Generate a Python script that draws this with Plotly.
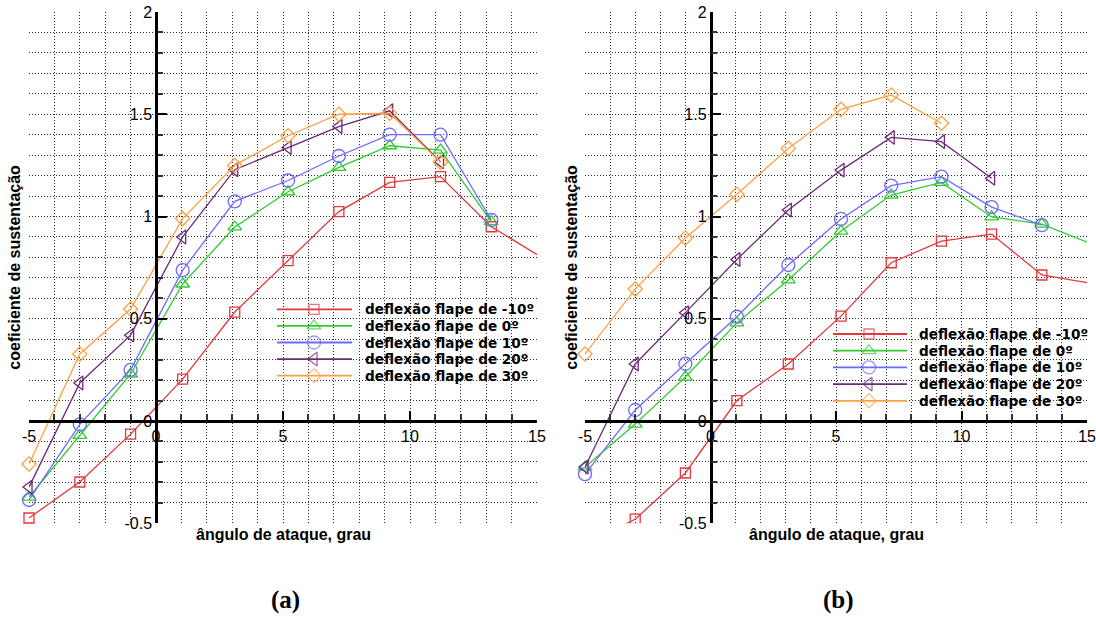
import plotly.graph_objects as go

# ---------------- data ----------------
alpha = [-5, -3, -1, 1.05, 3.1, 5.2, 7.2, 9.2, 11.2, 13.2, 15.1]

# panel (a)
a_m10 = [-0.474, -0.298, -0.064, 0.205, 0.533, 0.784, 1.024, 1.167, 1.195, 0.95, 0.807]
a_0 = [-0.372, -0.07, 0.23, 0.67, 0.949, 1.121, 1.24, 1.346, 1.325, 0.975]
a_10 = [-0.386, -0.016, 0.25, 0.738, 1.074, 1.176, 1.296, 1.40, 1.40, 0.983]
a_20 = [-0.323, 0.186, 0.42, 0.90, 1.229, 1.337, 1.44, 1.517, 1.268]
a_30 = [-0.21, 0.328, 0.548, 0.99, 1.25, 1.395, 1.50, 1.505, 1.265]

# panel (b)
b_m10 = [-0.6, -0.48, -0.254, 0.10, 0.279, 0.513, 0.774, 0.88, 0.914, 0.714, 0.675]
b_0 = [-0.225, -0.015, 0.215, 0.48, 0.69, 0.929, 1.105, 1.167, 0.998, 0.963, 0.87]
b_10 = [-0.26, 0.054, 0.28, 0.51, 0.763, 0.988, 1.151, 1.195, 1.046, 0.958]
b_20 = [-0.225, 0.279, 0.53, 0.79, 1.032, 1.227, 1.387, 1.366, 1.187]
b_30 = [0.328, 0.645, 0.895, 1.109, 1.333, 1.524, 1.594, 1.456]

labels = ["deflexão flape de -10º", "deflexão flape de 0º", "deflexão flape de 10º",
          "deflexão flape de 20º", "deflexão flape de 30º"]
x_tickvals = [-5, 0, 5, 10, 15]
x_ticktext = ["-5", "0", "5", "10", "15"]
y_tickvals = [-0.5, 0, 0.5, 1, 1.5, 2]
y_ticktext = ["-0.5", "0", "0.5", "1", "1.5", "2"]
x_title = "ângulo de ataque, grau"
y_title = "coeficiente de sustentação"
panel_labels = ["(a)", "(b)"]

# ---------------- style ----------------
W, H = 1096, 617
colors = ["#e0383c", "#2ecc2e", "#6b6bff", "#6b2a78", "#ffa040"]
symbols = ["square-open", "triangle-up-open", "circle-open", "triangle-left-open", "diamond-open"]
msizes = [10, 12, 13, 12, 11]
FONT = "Liberation Sans, Arial, sans-serif"
LEGFONT = "DejaVu Sans, Liberation Sans, sans-serif"
GRID = "#2a2a2a"

# pixel layout
top_px, bot_px = 12, 523.3
panels_px = [(29, 537), (585, 1087)]
ydom = [1 - bot_px / H, 1 - top_px / H]
XR = [-5, 15]
YR = [-0.5, 2]

fig = go.Figure()

series = [[a_m10, a_0, a_10, a_20, a_30], [b_m10, b_0, b_10, b_20, b_30]]
for p, sers in enumerate(series):
    xa = "x" if p == 0 else "x2"
    ya = "y" if p == 0 else "y2"
    for i, yv in enumerate(sers):
        clip = (p == 1 and i == 0)
        fig.add_trace(go.Scatter(
            x=alpha[:len(yv)], y=yv, xaxis=xa, yaxis=ya, mode="lines+markers",
            line=dict(color=colors[i], width=1.3),
            marker=dict(symbol=symbols[i], size=msizes[i], color=colors[i],
                        line=dict(color=colors[i], width=1.3)),
            cliponaxis=clip, showlegend=False, hoverinfo="skip"))

axis_common = dict(
    showline=True, linecolor="black", linewidth=2.5,
    ticks="inside", tickcolor="black", tickwidth=2, ticklen=9,
    showgrid=True, gridcolor=GRID, gridwidth=1, griddash="1px,2px",
    zeroline=False, tickfont=dict(family=FONT, size=16, color="black"),
    anchor="free", fixedrange=True, automargin=False,
)

layout = dict(width=W, height=H, margin=dict(l=0, r=0, t=0, b=0, autoexpand=False),
              paper_bgcolor="white", plot_bgcolor="rgba(0,0,0,0)", showlegend=False)

for p, (x0, x1) in enumerate(panels_px):
    xdom = [x0 / W, x1 / W]
    xpos = ydom[0] + (0 - YR[0]) / (YR[1] - YR[0]) * (ydom[1] - ydom[0])
    ypos = xdom[0] + (0 - XR[0]) / (XR[1] - XR[0]) * (xdom[1] - xdom[0])
    sx = "" if p == 0 else "2"
    xa = dict(axis_common)
    xa.update(domain=xdom, range=XR, position=xpos, tickmode="array",
              tickvals=x_tickvals, ticktext=x_ticktext,
              minor=dict(tickmode="linear", tick0=0, dtick=1, ticks="inside", ticklen=6,
                         tickwidth=1.5, tickcolor="#333", showgrid=True,
                         gridcolor=GRID, gridwidth=1, griddash="1px,2px"))
    ya = dict(axis_common)
    ya.update(domain=ydom, range=YR, position=ypos, tickmode="array",
              tickvals=y_tickvals, ticktext=y_ticktext,
              minor=dict(tickmode="linear", tick0=0, dtick=0.1, ticks="inside", ticklen=5,
                         tickwidth=1.5, tickcolor="#333", showgrid=True,
                         gridcolor=GRID, gridwidth=1, griddash="1px,2px"))
    layout["xaxis" + sx] = xa
    layout["yaxis" + sx] = ya

# pixel overlay axes for legends and labels
layout["xaxis3"] = dict(domain=[0, 1], range=[0, W], visible=False, anchor="y3",
                        fixedrange=True, automargin=False)
layout["yaxis3"] = dict(domain=[0, 1], range=[H, 0], visible=False, anchor="x3",
                        fixedrange=True, automargin=False)
fig.update_layout(**layout)

# legends
LFONT = 13.6
legends = [dict(line=(277, 352), mx=314, tx=364, y0=309.3, dy=16.6),
           dict(line=(833, 907), mx=869, tx=918, y0=334.0, dy=16.7)]
for lg in legends:
    ys = [lg["y0"] + k * lg["dy"] for k in range(5)]
    for k in range(5):
        fig.add_shape(type="line", xref="x3", yref="y3", x0=lg["line"][0], x1=lg["line"][1],
                      y0=ys[k], y1=ys[k], line=dict(color=colors[k], width=1.8))
        fig.add_annotation(x=lg["tx"], y=ys[k], xref="x3", yref="y3", text="<b>%s</b>" % labels[k],
                           showarrow=False, xanchor="left", yanchor="middle", borderpad=0,
                           font=dict(family=LEGFONT, size=LFONT, color="black"))
    fig.add_trace(go.Scatter(x=[lg["mx"]] * 5, y=ys, xaxis="x3", yaxis="y3", mode="markers",
                             marker=dict(symbol=symbols, size=msizes, color=colors,
                                         line=dict(color=colors, width=1.3)),
                             showlegend=False, hoverinfo="skip", cliponaxis=False))

# axis titles and panel labels
for p, (x0, x1) in enumerate(panels_px):
    cx = (x0 + x1) / 2
    fig.add_annotation(x=cx, y=534, xref="x3", yref="y3", text="<b>%s</b>" % x_title,
                       showarrow=False, xanchor="center", yanchor="middle",
                       font=dict(family=FONT, size=16, color="black"))
    fig.add_annotation(x=15 if p == 0 else 572, y=(top_px + bot_px) / 2, xref="x3", yref="y3",
                       text="<b>%s</b>" % y_title, textangle=-90, showarrow=False,
                       xanchor="center", yanchor="middle",
                       font=dict(family=FONT, size=16, color="black"))
    fig.add_annotation(x=285 if p == 0 else 838, y=600, xref="x3", yref="y3",
                       text="<b>%s</b>" % panel_labels[p], showarrow=False,
                       xanchor="center", yanchor="middle",
                       font=dict(family="Liberation Serif, Times New Roman, serif", size=25, color="black"))

fig.write_html("out.html")
